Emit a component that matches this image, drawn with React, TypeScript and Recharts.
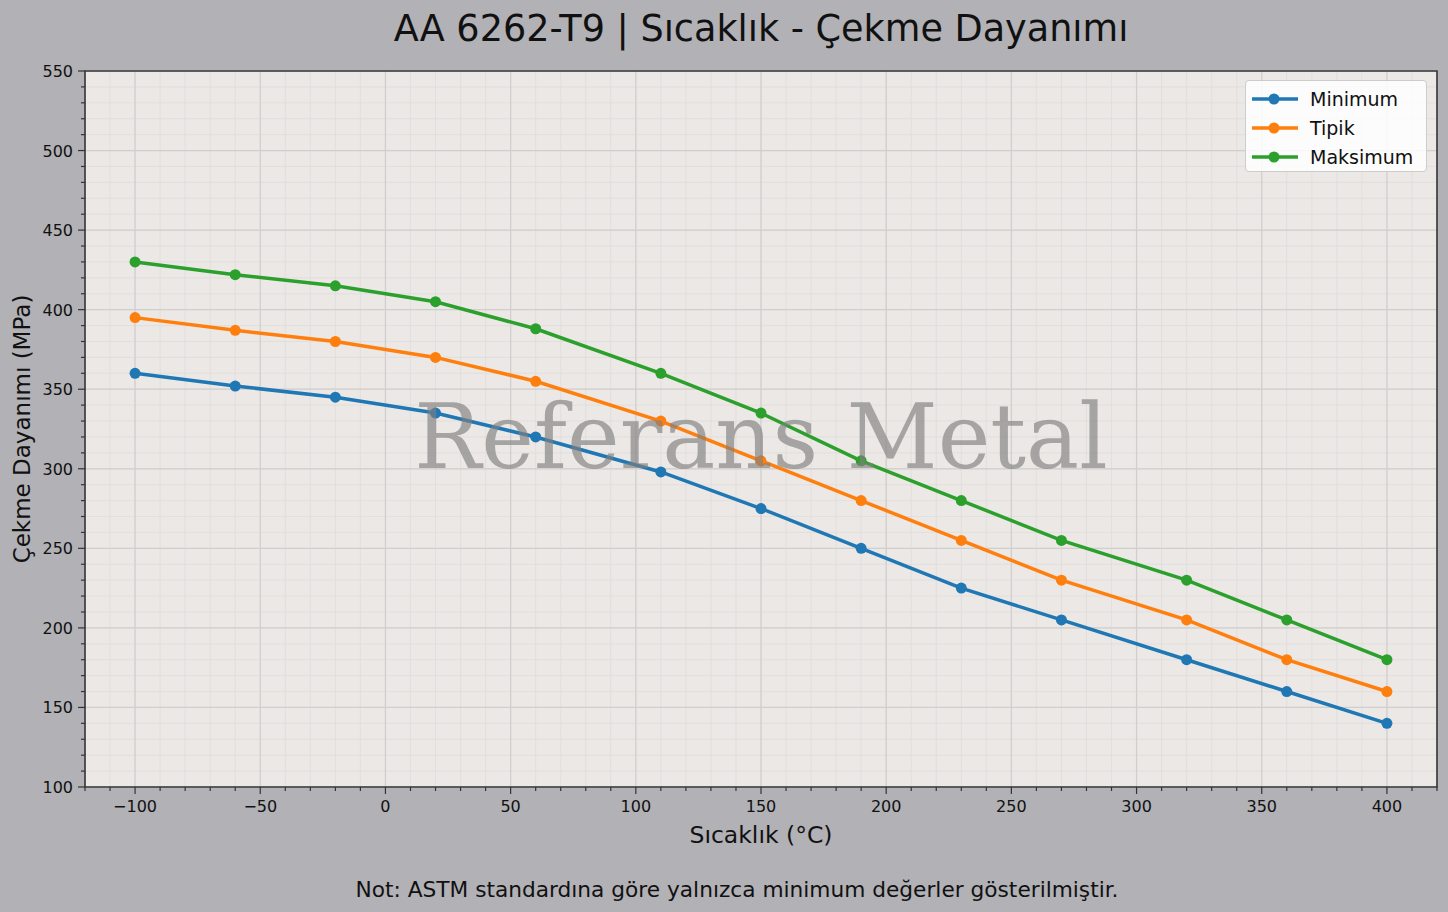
import React from "react";
import {
  LineChart,
  Line,
  XAxis,
  YAxis,
  CartesianGrid,
  ReferenceArea,
} from "recharts";

// Sıcaklık (°C) noktaları ve üç seri (MPa)
const temperatures = [-100, -60, -20, 20, 60, 110, 150, 190, 230, 270, 320, 360, 400];
const minimumValues = [360, 352, 345, 335, 320, 298, 275, 250, 225, 205, 180, 160, 140];
const typicalValues = [395, 387, 380, 370, 355, 330, 305, 280, 255, 230, 205, 180, 160];
const maximumValues = [430, 422, 415, 405, 388, 360, 335, 305, 280, 255, 230, 205, 180];

const xMajorTicks = [-100, -50, 0, 50, 100, 150, 200, 250, 300, 350, 400];
const yMajorTicks = [100, 150, 200, 250, 300, 350, 400, 450, 500, 550];
const xMinorTicks = Array.from({ length: 55 }, (_, i) => -120 + i * 10);
const yMinorTicks = Array.from({ length: 46 }, (_, i) => 100 + i * 10);

const SERIES = [
  { key: "min", name: "Minimum", color: "#1f77b4" },
  { key: "typ", name: "Tipik", color: "#ff7f0e" },
  { key: "max", name: "Maksimum", color: "#2ca02c" },
];

const data = temperatures.map((t, i) => ({
  t,
  min: minimumValues[i],
  typ: typicalValues[i],
  max: maximumValues[i],
}));

const FONT = "'DejaVu Sans', sans-serif";
const fmt = (v: number) => (v < 0 ? `\u2212${Math.abs(v)}` : `${v}`);

function XTick(props: any) {
  const { x, y, payload } = props;
  const v = payload.value as number;
  const major = v % 50 === 0;
  return (
    <g>
      <line x1={x} x2={x} y1={y} y2={y + (major ? 7 : 4)} stroke="#333" strokeWidth={1.2} />
      {major && (
        <text x={x} y={y + 25} textAnchor="middle" fontSize={16} fontFamily={FONT} fill="#111">
          {fmt(v)}
        </text>
      )}
    </g>
  );
}

function YTick(props: any) {
  const { x, y, payload } = props;
  const v = payload.value as number;
  const major = v % 50 === 0;
  return (
    <g>
      <line x1={x} x2={x - (major ? 7 : 4)} y1={y} y2={y} stroke="#333" strokeWidth={1.2} />
      {major && (
        <text x={x - 12} y={y + 6} textAnchor="end" fontSize={16} fontFamily={FONT} fill="#111">
          {fmt(v)}
        </text>
      )}
    </g>
  );
}

function LegendBox() {
  return (
    <div
      style={{
        position: "absolute",
        left: 1245,
        top: 80,
        width: 182,
        height: 92,
        background: "rgba(255,255,255,0.85)",
        border: "1px solid #cccccc",
        borderRadius: 4,
        boxSizing: "border-box",
        padding: "3px 0 0 6px",
        fontFamily: FONT,
        fontSize: 19,
        color: "#111",
      }}
    >
      {SERIES.map((s) => (
        <div key={s.key} style={{ display: "flex", alignItems: "center", height: 29 }}>
          <svg width={46} height={12} style={{ marginRight: 12 }}>
            <line x1={0} x2={46} y1={6} y2={6} stroke={s.color} strokeWidth={3.5} />
            <circle cx={22} cy={6} r={5.5} fill={s.color} />
          </svg>
          <span>{s.name}</span>
        </div>
      ))}
    </div>
  );
}

export default function App() {
  return (
    <div
      style={{
        position: "absolute",
        left: 0,
        top: 0,
        width: 1448,
        height: 912,
        background: "#b2b1b6",
        fontFamily: FONT,
        overflow: "hidden",
      }}
    >
      <div
        style={{
          position: "absolute",
          left: 85,
          width: 1352,
          top: 7,
          textAlign: "center",
          fontSize: 36.6,
          color: "#111",
        }}
      >
        AA 6262-T9 | Sıcaklık - Çekme Dayanımı
      </div>

      <LineChart
        width={1448}
        height={912}
        data={data}
        margin={{ top: 71, right: 11, bottom: 80, left: 10 }}
      >
        <CartesianGrid
          fill="#ebe8e6"
          stroke="#e0dcdb"
          strokeWidth={0.8}
          horizontalValues={yMinorTicks}
          verticalValues={xMinorTicks}
        />
        <CartesianGrid
          fill="none"
          stroke="#d2cecd"
          strokeWidth={1.2}
          horizontalValues={yMajorTicks}
          verticalValues={xMajorTicks}
        />
        <XAxis
          dataKey="t"
          type="number"
          domain={[-120, 420]}
          ticks={xMinorTicks}
          interval={0}
          height={45}
          tickSize={0}
          tickMargin={0}
          axisLine={false}
          tickLine={false}
          tick={<XTick />}
        />
        <YAxis
          type="number"
          domain={[100, 550]}
          ticks={yMinorTicks}
          interval={0}
          width={75}
          tickSize={0}
          tickMargin={0}
          axisLine={false}
          tickLine={false}
          tick={<YTick />}
        />
        {SERIES.map((s) => (
          <Line
            key={s.key}
            type="linear"
            dataKey={s.key}
            name={s.name}
            stroke={s.color}
            strokeWidth={3.5}
            dot={{ r: 5.5, fill: s.color, stroke: "none" }}
            activeDot={false}
            isAnimationActive={false}
          />
        ))}
        <ReferenceArea
          x1={-120}
          x2={420}
          y1={100}
          y2={550}
          fill="none"
          stroke="#333"
          strokeWidth={1.6}
          ifOverflow="visible"
        />
      </LineChart>

      <LegendBox />

      {/* filigran çizgilerin üstünde */}
      <svg
        width={1448}
        height={912}
        style={{ position: "absolute", left: 0, top: 0, pointerEvents: "none" }}
      >
        <text
          x={761}
          y={468}
          textAnchor="middle"
          fontFamily="'DejaVu Serif', serif"
          fontSize={89}
          fill="#808080"
          fillOpacity={0.65}
        >
          Referans Metal
        </text>
        <text
          x={22}
          y={429}
          textAnchor="middle"
          dominantBaseline="central"
          transform="rotate(-90 22 429)"
          fontFamily={FONT}
          fontSize={23}
          fill="#111"
        >
          Çekme Dayanımı (MPa)
        </text>
        <text x={761} y={843} textAnchor="middle" fontFamily={FONT} fontSize={23.5} fill="#111">
          Sıcaklık (°C)
        </text>
        <text x={737} y={897} textAnchor="middle" fontFamily={FONT} fontSize={21.7} fill="#111">
          Not: ASTM standardına göre yalnızca minimum değerler gösterilmiştir.
        </text>
      </svg>
    </div>
  );
}
